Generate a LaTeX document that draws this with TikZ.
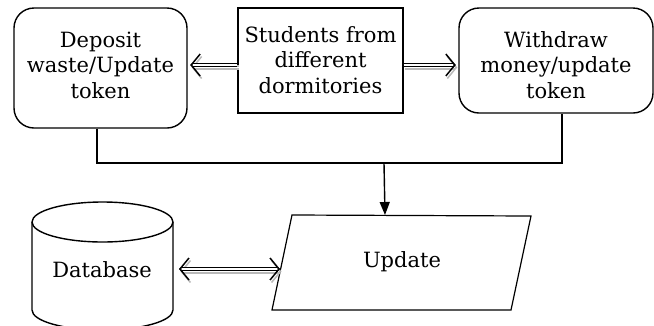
\documentclass[tikz,border=0pt]{standalone}
\usepackage{fontspec}
\setmainfont{DejaVu Serif}
\usetikzlibrary{arrows.meta,calc}
\begin{document}
\begin{tikzpicture}[x=1pt,y=-1pt,
  txt/.style={font=\fontsize{21}{25.5}\selectfont, align=center, inner sep=0pt},
  rbox/.style={draw, line width=1.4pt, rounded corners=20pt, inner sep=0pt},
  sbox/.style={draw, line width=1.2pt, inner sep=0pt},
  ln/.style={line width=1.4pt},
  dbl/.style={double, double distance=1.8pt, line width=1.2pt},
  chev/.style={line width=1.5pt, line cap=round, -{Straight Barb[length=9pt,width=22pt,line width=1.5pt]}},
  shd/.style={draw=gray!55, transform canvas={shift={(1.5pt,-2.5pt)}}},
]
\useasboundingbox (0,0) rectangle (654,325);
% boxes
\node[rbox, minimum width=173pt, minimum height=120pt] (dep) at (100.5,68) {};
\node[txt] (dept) at (100.5,65) {Deposit\\waste/Update\\token};
\node[sbox, minimum width=165pt, minimum height=105pt] (mid) at (320.5,60.5) {};
\node[txt] (midt) at (320.5,60) {Students from\\different\\dormitories};
\node[rbox, minimum width=194pt, minimum height=105pt] (wd) at (556,60.5) {};
\node[txt] (wdt) at (556,65) {Withdraw\\money/update\\token};
% arrows from students
\coordinate (mL) at ([yshift=-4.5pt]mid.west);
\coordinate (mR) at ([yshift=-4.5pt]mid.east);
\coordinate (dL) at ([xshift=2.5pt]mL -| dep.east);
\coordinate (wR) at ([xshift=-2.5pt]mR -| wd.west);
\foreach \a/\b in {mL/dL, mR/wR}{
  \draw[dbl, shd, shorten >=2pt] (\a) -- (\b);
  \draw[chev, shd] ($(\b)!1pt!(\a)$) -- (\b);
  \draw[dbl, shorten >=2pt] (\a) -- (\b);
  \draw[chev] ($(\b)!1pt!(\a)$) -- (\b);
}
% collector line
\coordinate (j) at (384,163);
\draw[ln] ([xshift=-3.5pt]dep.south) |- (j) -| ([xshift=6pt]wd.south);
% parallelogram
\draw[line width=1.2pt] (292,215) coordinate (pTL) -- (531,216) coordinate (pTR)
  -- (511,310) coordinate (pBR) -- (272,310) coordinate (pBL) -- cycle;
\node[txt] (upd) at (402,262) {Update};
\coordinate (updT) at (385,215);
\draw[ln, -{Triangle[length=13pt,width=10pt]}] (j) -- (updT);
% cylinder
\draw[ln, fill=white] (32,222) -- (32,310)
  arc[start angle=180, end angle=360, x radius=70.5pt, y radius=20pt]
  -- (173,222)
  arc[start angle=0, end angle=180, x radius=70.5pt, y radius=20pt] -- cycle;
\draw[ln] (32,222) arc[start angle=180, end angle=360, x radius=70.5pt, y radius=20pt];
\node[txt] (db) at (102,270) {Database};
\coordinate (dbE) at (179,269);
\coordinate (updL) at (280,269);
\draw[dbl, shd, shorten >=2pt, shorten <=2pt] (dbE) -- (updL);
\draw[chev, shd] ($(updL)!1pt!(dbE)$) -- (updL);
\draw[chev, shd] ($(dbE)!1pt!(updL)$) -- (dbE);
\draw[dbl, shorten >=2pt, shorten <=2pt] (dbE) -- (updL);
\draw[chev] ($(updL)!1pt!(dbE)$) -- (updL);
\draw[chev] ($(dbE)!1pt!(updL)$) -- (dbE);
\end{tikzpicture}
\end{document}
